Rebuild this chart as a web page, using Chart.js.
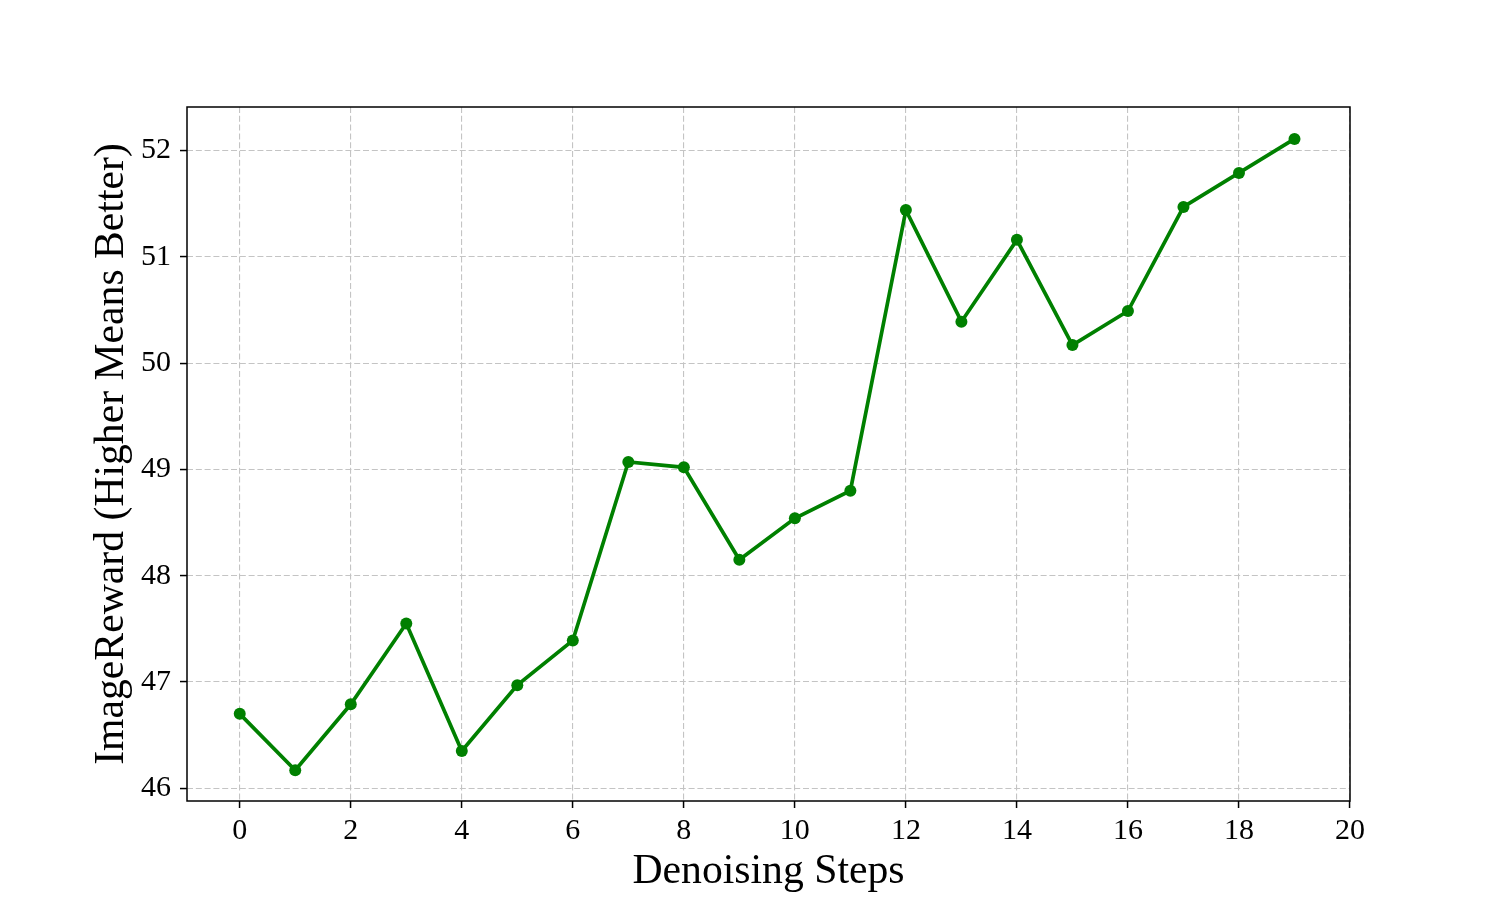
<!DOCTYPE html>
<html>
<head>
<meta charset="utf-8">
<script src="https://cdn.jsdelivr.net/npm/chart.js@4.4.1/dist/chart.umd.min.js"></script>
<style>
html,body{margin:0;padding:0;background:#fff;}
#wrap{width:1500px;height:900px;position:relative;}
</style>
</head>
<body>
<div id="wrap"><canvas id="c" width="1500" height="900"></canvas></div>
<script>
const steps = [0,1,2,3,4,5,6,7,8,9,10,11,12,13,14,15,16,17,18,19];
const imageReward = [46.70,46.17,46.79,47.55,46.35,46.97,47.39,49.07,49.02,48.15,48.54,48.80,51.44,50.39,51.16,50.17,50.49,51.47,51.79,52.11];
const xTitle = 'Denoising Steps';
const yTitle = 'ImageReward (Higher Means Better)';

const FONT = '"Liberation Serif", "DejaVu Serif", serif';

const framePlugin = {
  id: 'frame',
  afterDraw(chart) {
    const {ctx, chartArea: a} = chart;
    ctx.save();
    ctx.strokeStyle = '#000';
    ctx.lineWidth = 1.5;
    ctx.strokeRect(a.left, a.top, a.right - a.left, a.bottom - a.top);
    ctx.restore();
  }
};

new Chart(document.getElementById('c'), {
  type: 'line',
  data: {
    datasets: [{
      data: steps.map((s, i) => ({x: s, y: imageReward[i]})),
      borderColor: '#008000',
      backgroundColor: '#008000',
      borderWidth: 3.7,
      pointRadius: 6,
      pointHoverRadius: 6,
      pointBorderWidth: 0,
      tension: 0,
      fill: false
    }]
  },
  options: {
    responsive: false,
    animation: false,
    devicePixelRatio: 1,
    layout: {padding: {left: 87, right: 150, top: 107, bottom: 3}},
    plugins: {legend: {display: false}, tooltip: {enabled: false}},
    scales: {
      x: {
        type: 'linear',
        min: -0.95,
        max: 20,
        afterFit(scale) { scale.height = 96; },
        ticks: {
          stepSize: 2,
          includeBounds: false,
          padding: 5,
          color: '#000',
          font: {family: FONT, size: 30},
          maxRotation: 0,
          autoSkip: false
        },
        grid: {
          color: '#c4c4c4',
          lineWidth: 1.1,
          borderDash: [6, 2.8],
          tickLength: 7,
          tickColor: '#000',
          tickWidth: 1.5,
          tickBorderDash: []
        },
        border: {display: false, dash: [6, 2.8]},
        title: {
          display: true,
          text: xTitle,
          color: '#000',
          font: {family: FONT, size: 41.7},
          padding: 0
        }
      },
      y: {
        type: 'linear',
        min: 45.88,
        max: 52.41,
        afterFit(scale) { scale.width = 100; },
        ticks: {
          stepSize: 1,
          includeBounds: false,
          padding: 9,
          color: '#000',
          font: {family: FONT, size: 30}
        },
        grid: {
          color: '#c4c4c4',
          lineWidth: 1.1,
          borderDash: [6, 2.8],
          tickLength: 7,
          tickColor: '#000',
          tickWidth: 1.5,
          tickBorderDash: []
        },
        border: {display: false, dash: [6, 2.8]},
        title: {
          display: true,
          text: yTitle,
          color: '#000',
          font: {family: FONT, size: 41.7},
          padding: 0
        }
      }
    }
  },
  plugins: [framePlugin]
});
</script>
</body>
</html>
